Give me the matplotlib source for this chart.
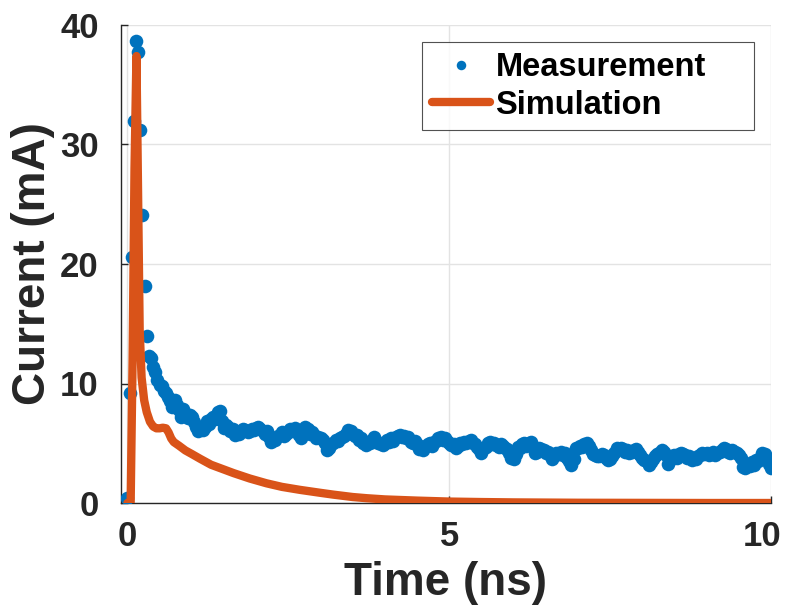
import numpy as np
import matplotlib.pyplot as plt
import matplotlib.transforms as mtransforms

# ------------------------------------------------------------
# data
# ------------------------------------------------------------
# measurement: sampled every 1/30 ns from 0 to 10 ns
t_meas = np.linspace(0, 10, 301)
i_meas = [
    0.4, 9.2, 20.6, 32.0, 38.7, 37.7, 31.2, 24.1, 18.2, 14.0,
    12.3, 12.1, 11.4, 11.0, 10.3, 9.9, 9.8, 9.4, 9.2, 8.9,
    8.5, 8.0, 8.6, 8.2, 7.8, 7.2, 7.9, 7.5, 7.1, 7.4,
    7.2, 6.8, 6.4, 6.0, 6.3, 6.1, 6.4, 6.9, 6.6, 7.0,
    7.2, 7.0, 7.6, 7.7, 6.9, 6.3, 6.5, 6.4, 6.0, 6.2,
    5.7, 5.9, 5.8, 6.0, 6.2, 6.1, 5.9, 6.0, 6.2, 6.1,
    6.3, 6.4, 6.2, 6.0, 5.8, 6.0, 5.5, 5.1, 5.4, 5.3,
    5.6, 5.7, 5.9, 5.6, 5.8, 5.9, 6.2, 6.0, 6.25, 6.0,
    5.7, 5.4, 5.9, 6.4, 6.2, 5.8, 5.9, 5.7, 5.4, 5.5,
    5.4, 5.3, 5.0, 4.4, 4.6, 4.9, 5.0, 5.3, 5.2, 5.4,
    5.5, 5.6, 5.8, 6.1, 6.0, 5.8, 5.6, 5.7, 5.3, 5.4,
    5.0, 4.85, 5.1, 5.0, 5.3, 5.5, 5.2, 5.0, 4.9, 4.85,
    5.0, 5.3, 5.1, 5.4, 5.2, 5.5, 5.6, 5.7, 5.5, 5.6,
    5.4, 5.5, 5.1, 5.0, 5.2, 4.9, 4.5, 4.7, 4.4, 4.8,
    4.9, 5.0, 4.8, 5.1, 5.2, 5.4, 5.5, 5.3, 5.4, 5.2,
    5.0, 4.85, 4.9, 4.6, 4.8, 5.0, 4.9, 5.1, 5.0, 5.2,
    5.3, 5.0, 4.9, 4.7, 4.5, 4.2, 4.6, 4.7, 5.0, 5.1,
    4.9, 5.0, 4.85, 4.7, 4.9, 4.8, 4.6, 4.5, 4.2, 3.8,
    3.7, 4.1, 4.7, 4.6, 4.9, 5.0, 4.8, 5.0, 5.1, 4.7,
    4.2, 4.3, 4.6, 4.5, 4.4, 4.2, 4.3, 4.0, 3.7, 3.9,
    4.2, 4.1, 4.3, 4.0, 4.2, 3.8, 3.5, 3.2, 3.7, 4.6,
    4.6, 4.8, 4.7, 4.9, 5.0, 4.8, 4.4, 4.1, 4.0, 3.9,
    3.9, 4.1, 4.0, 3.8, 3.6, 3.7, 3.9, 4.2, 4.6, 4.5,
    4.6, 4.5, 4.3, 4.4, 4.2, 4.3, 4.4, 4.5, 4.3, 4.0,
    3.8, 3.6, 3.5, 3.2, 3.4, 3.7, 3.9, 4.1, 4.2, 4.4,
    4.3, 4.0, 3.3, 3.6, 3.9, 4.0, 3.8, 4.1, 4.2, 4.1,
    4.0, 3.8, 3.9, 3.6, 3.8, 3.7, 3.9, 4.0, 4.2, 4.1,
    4.2, 4.0, 4.1, 4.3, 4.0, 4.2, 4.3, 4.4, 4.6, 4.5,
    4.3, 4.2, 4.4, 4.3, 4.2, 4.0, 3.8, 3.0, 2.9, 3.2,
    3.1, 3.4, 3.2, 3.6, 3.5, 3.8, 4.2, 4.1, 3.7, 3.3,
    2.9,
]

# simulation curve
t_sim = [0.0, 0.05, 0.08, 0.11, 0.14, 0.165, 0.19, 0.22, 0.26, 0.30,
         0.35, 0.40, 0.45, 0.50, 0.55, 0.60, 0.64, 0.68, 0.72, 0.80,
         0.90, 1.0, 1.13, 1.3, 1.5, 1.65, 1.9, 2.16, 2.4, 2.68,
         3.0, 3.2, 3.5, 3.72, 4.0, 4.5, 5.0, 5.5, 6.0, 7.0,
         8.0, 9.0, 10.0]
i_sim = [0.0, 0.0, 12.0, 28.0, 37.4, 26.0, 14.5, 10.5, 8.6, 7.6,
         6.8, 6.4, 6.25, 6.25, 6.3, 6.25, 5.9, 5.4, 5.1, 4.8,
         4.4, 4.1, 3.7, 3.2, 2.8, 2.5, 2.05, 1.65, 1.35, 1.1,
         0.85, 0.7, 0.5, 0.4, 0.3, 0.2, 0.12, 0.08, 0.05, 0.02,
         0.01, 0.0, 0.0]

x_ticks = [0, 5, 10]
y_ticks = [0, 10, 20, 30, 40]

# ------------------------------------------------------------
# plot
# ------------------------------------------------------------
plt.rcParams['font.family'] = ['Liberation Sans', 'DejaVu Sans']
plt.rcParams['font.weight'] = 'bold'

fig = plt.figure(figsize=(7.88, 6.09), dpi=100)
ax = fig.add_axes([121 / 788, 1 - 503 / 609, (771 - 121) / 788, (503 - 25) / 609])

ax.plot(t_meas, i_meas, 'o', color='#0072BD', markersize=9.8,
        markeredgewidth=0, label='Measurement', zorder=3)
ax.plot(t_sim, i_sim, '-', color='#D95319', linewidth=6,
        solid_capstyle='round', solid_joinstyle='round',
        label='Simulation', zorder=4)

ax.set_xlim(-0.1, 10)
ax.set_ylim(0, 40)
ax.set_xticks(x_ticks)
ax.set_yticks(y_ticks)
ax.grid(True, color='#e3e3e3', linewidth=1)
ax.set_axisbelow(True)

for side in ['top', 'right']:
    ax.spines[side].set_visible(False)
for side in ['left', 'bottom']:
    ax.spines[side].set_color('#262626')
    ax.spines[side].set_linewidth(1)

ax.tick_params(direction='in', length=5, width=1, colors='#262626',
               labelsize=25, labelcolor='#262626')
ax.tick_params(axis='y', pad=16)
ax.tick_params(axis='x', pad=12)
ax.set_xlabel('Time (ns)', fontsize=33, fontweight='bold', color='#262626', labelpad=6)
ax.set_ylabel('Current (mA)', fontsize=33, fontweight='bold', color='#262626', labelpad=4)

# last x tick label sits slightly inside the figure edge, as in the reference
fig.canvas.draw()
last_lbl = ax.get_xticklabels()[-1]
last_lbl.set_transform(last_lbl.get_transform()
                       + mtransforms.ScaledTranslation(-9 / 100, 0, fig.dpi_scale_trans))

leg = ax.legend(loc='upper left', bbox_to_anchor=(0.463, 0.782, 0.511, 0.182),
                mode='expand', borderaxespad=0, fontsize=23.5, frameon=True,
                fancybox=False, handlelength=1.8, handletextpad=0.15,
                borderpad=0.3, labelspacing=0.2, markerscale=0.7)
leg.get_frame().set_edgecolor('#262626')
leg.get_frame().set_linewidth(0.8)
for txt in leg.get_texts():
    txt.set_fontweight('bold')

fig.savefig('out.png', dpi=100)
